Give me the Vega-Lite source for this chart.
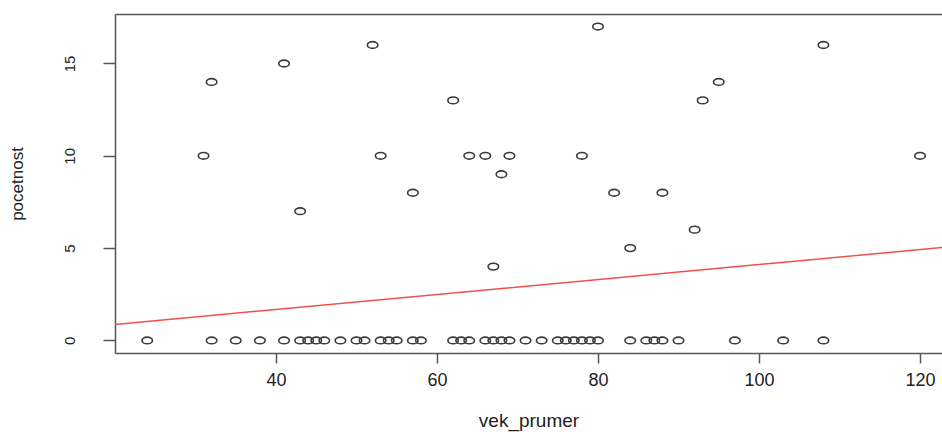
{
  "$schema": "https://vega.github.io/schema/vega-lite/v6.json",
  "autosize": "none",
  "width": 827,
  "height": 339,
  "padding": {"left": 115, "top": 14, "right": 0, "bottom": 79},
  "background": "white",
  "config": {
    "view": {"stroke": null},
    "font": "Liberation Sans",
    "axis": {"grid": false, "domainColor": "#555", "domainWidth": 1.5, "tickColor": "#555", "tickWidth": 1.5, "labelColor": "#222", "titleColor": "#222", "labelFont": "Liberation Sans", "titleFont": "Liberation Sans", "titleFontWeight": "normal"}
  },
  "layer": [
    {
      "data": {"values": [
        {"vek_prumer": 32, "pocetnost": 14},
        {"vek_prumer": 31, "pocetnost": 10},
        {"vek_prumer": 41, "pocetnost": 15},
        {"vek_prumer": 43, "pocetnost": 7},
        {"vek_prumer": 52, "pocetnost": 16},
        {"vek_prumer": 53, "pocetnost": 10},
        {"vek_prumer": 57, "pocetnost": 8},
        {"vek_prumer": 62, "pocetnost": 13},
        {"vek_prumer": 64, "pocetnost": 10},
        {"vek_prumer": 66, "pocetnost": 10},
        {"vek_prumer": 69, "pocetnost": 10},
        {"vek_prumer": 68, "pocetnost": 9},
        {"vek_prumer": 67, "pocetnost": 4},
        {"vek_prumer": 80, "pocetnost": 17},
        {"vek_prumer": 108, "pocetnost": 16},
        {"vek_prumer": 95, "pocetnost": 14},
        {"vek_prumer": 93, "pocetnost": 13},
        {"vek_prumer": 78, "pocetnost": 10},
        {"vek_prumer": 120, "pocetnost": 10},
        {"vek_prumer": 82, "pocetnost": 8},
        {"vek_prumer": 88, "pocetnost": 8},
        {"vek_prumer": 92, "pocetnost": 6},
        {"vek_prumer": 84, "pocetnost": 5},
        {"vek_prumer": 24, "pocetnost": 0},
        {"vek_prumer": 32, "pocetnost": 0},
        {"vek_prumer": 35, "pocetnost": 0},
        {"vek_prumer": 38, "pocetnost": 0},
        {"vek_prumer": 41, "pocetnost": 0},
        {"vek_prumer": 43, "pocetnost": 0},
        {"vek_prumer": 44, "pocetnost": 0},
        {"vek_prumer": 45, "pocetnost": 0},
        {"vek_prumer": 46, "pocetnost": 0},
        {"vek_prumer": 48, "pocetnost": 0},
        {"vek_prumer": 50, "pocetnost": 0},
        {"vek_prumer": 51, "pocetnost": 0},
        {"vek_prumer": 53, "pocetnost": 0},
        {"vek_prumer": 54, "pocetnost": 0},
        {"vek_prumer": 55, "pocetnost": 0},
        {"vek_prumer": 57, "pocetnost": 0},
        {"vek_prumer": 58, "pocetnost": 0},
        {"vek_prumer": 62, "pocetnost": 0},
        {"vek_prumer": 63, "pocetnost": 0},
        {"vek_prumer": 64, "pocetnost": 0},
        {"vek_prumer": 66, "pocetnost": 0},
        {"vek_prumer": 67, "pocetnost": 0},
        {"vek_prumer": 68, "pocetnost": 0},
        {"vek_prumer": 69, "pocetnost": 0},
        {"vek_prumer": 71, "pocetnost": 0},
        {"vek_prumer": 73, "pocetnost": 0},
        {"vek_prumer": 75, "pocetnost": 0},
        {"vek_prumer": 76, "pocetnost": 0},
        {"vek_prumer": 77, "pocetnost": 0},
        {"vek_prumer": 78, "pocetnost": 0},
        {"vek_prumer": 79, "pocetnost": 0},
        {"vek_prumer": 80, "pocetnost": 0},
        {"vek_prumer": 84, "pocetnost": 0},
        {"vek_prumer": 86, "pocetnost": 0},
        {"vek_prumer": 87, "pocetnost": 0},
        {"vek_prumer": 88, "pocetnost": 0},
        {"vek_prumer": 90, "pocetnost": 0},
        {"vek_prumer": 97, "pocetnost": 0},
        {"vek_prumer": 103, "pocetnost": 0},
        {"vek_prumer": 108, "pocetnost": 0}
      ]},
      "mark": {"type": "point", "shape": "M-1,0A1,0.64,0,1,1,1,0A1,0.64,0,1,1,-1,0Z", "size": 110, "filled": false, "stroke": "#3a3a3a", "strokeWidth": 1.6, "opacity": 1},
      "encoding": {
        "x": {"field": "vek_prumer", "type": "quantitative",
              "scale": {"domain": [20, 122.73], "nice": false, "zero": false},
              "axis": {"orient": "bottom", "values": [40, 60, 80, 100, 120], "tickSize": 10, "labelFontSize": 18, "labelPadding": 8, "titleFontSize": 19, "titlePadding": 22, "title": "vek_prumer"}},
        "y": {"field": "pocetnost", "type": "quantitative",
              "scale": {"domain": [-0.68, 17.68], "nice": false, "zero": false},
              "axis": {"values": [0, 5, 10, 15], "tickSize": 12, "labelAngle": 270, "labelAlign": "center", "labelBaseline": "bottom", "labelFontSize": 15, "labelPadding": 26, "titleFontSize": 17, "titlePadding": 36, "title": "pocetnost"}}
      }
    },
    {
      "data": {"values": [
        {"vek_prumer": 20, "pocetnost": 0.87},
        {"vek_prumer": 122.73, "pocetnost": 5.03}
      ]},
      "mark": {"type": "line", "color": "#f04f4f", "strokeWidth": 1.5, "clip": true},
      "encoding": {
        "x": {"field": "vek_prumer", "type": "quantitative",
              "axis": {"orient": "top", "labels": false, "ticks": false, "title": null, "domain": true}},
        "y": {"field": "pocetnost", "type": "quantitative"}
      }
    }
  ]
}
